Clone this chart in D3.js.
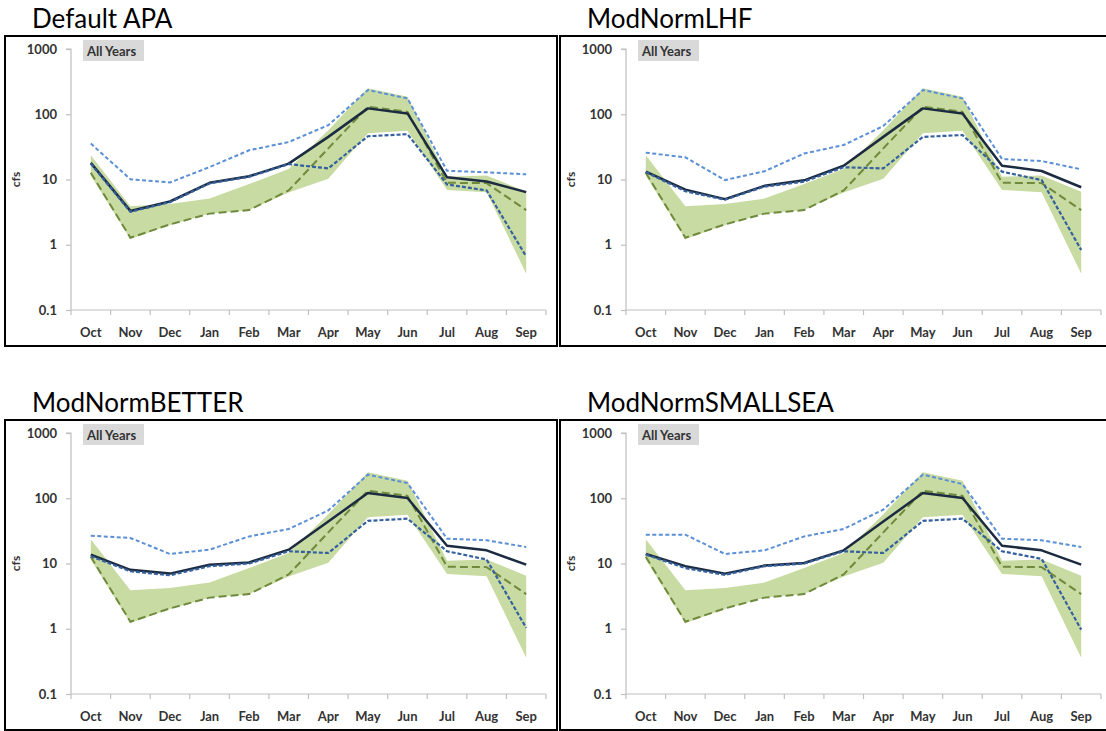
<!DOCTYPE html>
<html>
<head>
<meta charset="utf-8">
<script src="https://cdn.jsdelivr.net/npm/d3@7"></script>
<style>
  html, body { margin: 0; padding: 0; background: #fff; }
  svg { display: block; }
  text { font-family: Lato, "Open Sans", sans-serif; }
</style>
</head>
<body>
<svg id="chart" width="1106" height="731"></svg>
<script>
// Monthly flow (cfs), water year Oct–Sep
const months = ["Oct", "Nov", "Dec", "Jan", "Feb", "Mar", "Apr", "May", "Jun", "Jul", "Aug", "Sep"];

// Observed range (shaded) and observed median (green dashed), shared by all panels
const obsHigh   = [23.5, 3.9, 4.2, 5.1, 8.5, 14.5, 57, 250, 186, 11, 11.5, 6.5];
const obsLow    = [11.5, 1.22, 2.0, 3.0, 3.4, 6.3, 10.3, 51, 56, 6.9, 6.4, 0.36];
const obsMedian = [12.7, 1.28, 2.05, 3.0, 3.4, 6.8, 30, 130, 109, 8.9, 8.8, 3.4];

// Simulated median (solid), upper (light blue) and lower (dark blue) per scenario
const apaMedian = [18, 3.3, 4.6, 8.9, 11.2, 17.5, 45, 123, 103, 10.8, 9.3, 6.4];
const apaHigh   = [35.5, 10.1, 9.0, 15.5, 28, 37.5, 68, 235, 175, 13.6, 12.9, 12];
const apaLow    = [17.5, 3.2, 4.5, 8.7, 11, 17.2, 14.8, 46, 49.5, 8.4, 6.8, 0.66];

const lhfMedian = [13.2, 7.0, 5.0, 8.0, 9.7, 16.3, 45, 123, 103, 16.3, 13.5, 7.6];
const lhfHigh   = [25.8, 21.9, 9.8, 13.4, 25, 33.8, 66, 235, 175, 20.6, 19.2, 14.3];
const lhfLow    = [13, 6.6, 4.9, 7.8, 9.3, 15.4, 14.8, 45, 48, 13.2, 9.8, 0.83];

const betterMedian = [13.7, 8.0, 7.0, 9.6, 10.4, 16.3, 44, 120, 101, 18.7, 15.9, 9.6];
const betterHigh   = [26.7, 24.6, 14, 16.3, 26, 33.8, 65, 230, 171, 24, 22.7, 17.9];
const betterLow    = [12.9, 7.6, 6.6, 9.1, 10, 15.4, 14.5, 45, 48.6, 15.4, 11.5, 1.03];

const smallseaMedian = [14, 9.1, 7.0, 9.3, 10.2, 15.9, 44, 120, 101, 18.7, 15.9, 9.6];
const smallseaHigh   = [27.7, 27.7, 14, 15.9, 26, 33.8, 67, 230, 165, 24, 22.7, 17.9];
const smallseaLow    = [13.7, 8.5, 6.7, 9.1, 10, 15.4, 14.5, 45, 48.6, 15.4, 11.8, 0.97];

const panelTitles = ["Default APA", "ModNormLHF", "ModNormBETTER", "ModNormSMALLSEA"];
const yTickValues = [0.1, 1, 10, 100, 1000];
const yTickLabels = ["0.1", "1", "10", "100", "1000"];
const yAxisTitle = "cfs";
const periodLabel = "All Years";

const scenarios = [
  { title: panelTitles[0], median: apaMedian, high: apaHigh, low: apaLow },
  { title: panelTitles[1], median: lhfMedian, high: lhfHigh, low: lhfLow },
  { title: panelTitles[2], median: betterMedian, high: betterHigh, low: betterLow },
  { title: panelTitles[3], median: smallseaMedian, high: smallseaHigh, low: smallseaLow }
];

const svg = d3.select("#chart");

// Shared scales (panel-local coordinates)
const x = d3.scaleBand().domain(months).range([71, 546]).padding(0);
const y = d3.scaleLog().domain([0.1, 1000]).range([310, 49]);
const cx = m => x(m) + x.bandwidth() / 2;

const axisGray = "#bfbfbf";
const labelColor = "#333333";

scenarios.forEach((s, i) => {
  const ox = (i % 2) * 555;
  const oy = Math.floor(i / 2) * 384;
  const g = svg.append("g").attr("transform", `translate(${ox},${oy})`);

  // Title above the frame
  g.append("text")
    .attr("x", 32).attr("y", 28)
    .attr("font-size", 26)
    .attr("fill", "#000")
    .text(s.title);

  // Frame
  g.append("rect")
    .attr("x", 5).attr("y", 36)
    .attr("width", 552).attr("height", 310)
    .attr("fill", "none")
    .attr("stroke", "#000")
    .attr("stroke-width", 2);

  // Period tag
  g.append("rect")
    .attr("x", 83).attr("y", 40)
    .attr("width", 61).attr("height", 21)
    .attr("fill", "#d9d9d9");
  g.append("text")
    .attr("x", 87).attr("y", 55.5)
    .attr("font-size", 13).attr("font-weight", "bold")
    .attr("fill", labelColor)
    .text(periodLabel);

  // Y axis
  const yAxis = d3.axisLeft(y)
    .tickValues(yTickValues)
    .tickFormat((d, k) => yTickLabels[k])
    .tickSize(5)
    .tickPadding(9);
  const yg = g.append("g").attr("transform", `translate(${x.range()[0]},0)`).call(yAxis);
  yg.select(".domain").attr("stroke", axisGray).attr("stroke-width", 1.2).attr("d", `M-5,${y(1000)}H0V${y(0.1)}`);
  yg.selectAll(".tick line").attr("stroke", axisGray).attr("stroke-width", 1.2);
  yg.selectAll(".tick text")
    .attr("font-family", "Lato, sans-serif")
    .attr("font-size", 13).attr("font-weight", "bold")
    .attr("fill", labelColor);

  // X axis: labels centred on months, ticks on month boundaries
  const xAxis = d3.axisBottom(x).tickSize(0).tickPadding(18);
  const xg = g.append("g").attr("transform", `translate(0,${y(0.1)})`).call(xAxis);
  xg.select(".domain").attr("stroke", axisGray).attr("stroke-width", 1.2)
    .attr("d", `M${x.range()[0]},0H${x.range()[1]}`);
  xg.selectAll(".tick text")
    .attr("font-family", "Lato, sans-serif")
    .attr("font-size", 13).attr("font-weight", "bold")
    .attr("fill", labelColor);
  const boundaries = months.map(m => x(m)).concat([x.range()[1]]);
  xg.selectAll("line.bound").data(boundaries).enter().append("line")
    .attr("class", "bound")
    .attr("x1", d => d).attr("x2", d => d)
    .attr("y1", 0).attr("y2", 5)
    .attr("stroke", axisGray).attr("stroke-width", 1.2);

  // Y axis title
  g.append("text")
    .attr("transform", `translate(20,${y(10)}) rotate(-90)`)
    .attr("text-anchor", "middle")
    .attr("font-size", 12).attr("font-weight", "bold")
    .attr("fill", labelColor)
    .text(yAxisTitle);

  // Observed range band
  const band = d3.area()
    .x((d, k) => cx(months[k]))
    .y0((d, k) => y(obsLow[k]))
    .y1((d, k) => y(obsHigh[k]));
  g.append("path").datum(months)
    .attr("d", band)
    .attr("fill", "#c8dba2")
    .attr("stroke", "none");

  const line = d3.line().x((d, k) => cx(months[k])).y(d => y(d));

  // Observed median
  g.append("path").datum(obsMedian)
    .attr("d", line).attr("fill", "none")
    .attr("stroke", "#6f8a3c").attr("stroke-width", 2)
    .attr("stroke-dasharray", "8,4");

  // Simulated upper
  g.append("path").datum(s.high)
    .attr("d", line).attr("fill", "none")
    .attr("stroke", "#5b8fd6").attr("stroke-width", 2)
    .attr("stroke-dasharray", "4,2.5");

  // Simulated median
  g.append("path").datum(s.median)
    .attr("d", line).attr("fill", "none")
    .attr("stroke", "#1c2b40").attr("stroke-width", 2.5)
    .attr("stroke-linejoin", "round");

  // Simulated lower
  g.append("path").datum(s.low)
    .attr("d", line).attr("fill", "none")
    .attr("stroke", "#34609e").attr("stroke-width", 2.2)
    .attr("stroke-dasharray", "4,2");
});
</script>
</body>
</html>
